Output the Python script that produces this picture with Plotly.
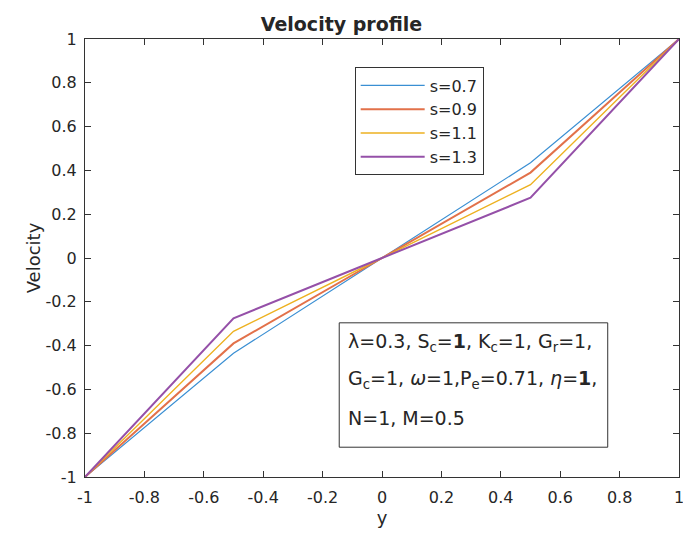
import plotly.graph_objects as go

# y positions along the channel
y_points = [-1.0, -0.5, 0.0, 0.5, 1.0]

# velocity for each s
vel_s07 = [-1.0, -0.435, 0.0, 0.435, 1.0]
vel_s09 = [-1.0, -0.39, 0.0, 0.39, 1.0]
vel_s11 = [-1.0, -0.335, 0.0, 0.335, 1.0]
vel_s13 = [-1.0, -0.275, 0.0, 0.275, 1.0]

series_names = ["s=0.7", "s=0.9", "s=1.1", "s=1.3"]
tick_vals = [-1, -0.8, -0.6, -0.4, -0.2, 0, 0.2, 0.4, 0.6, 0.8, 1]
tick_text = ["-1", "-0.8", "-0.6", "-0.4", "-0.2", "0", "0.2", "0.4", "0.6", "0.8", "1"]

colors = ["#3a8fd3", "#e2714a", "#edb120", "#9550a8"]
widths = [1.2, 2, 1.4, 2]

fig = go.Figure()
for name, vals, c, w in zip(series_names, [vel_s07, vel_s09, vel_s11, vel_s13], colors, widths):
    fig.add_trace(
        go.Scatter(x=y_points, y=vals, mode="lines", name=name,
                   line=dict(color=c, width=w))
    )

axis_style = dict(
    range=[-1, 1],
    tickvals=tick_vals,
    ticktext=tick_text,
    ticks="inside",
    ticklen=6,
    tickcolor="#333333",
    showline=True,
    linecolor="#333333",
    linewidth=1,
    mirror="ticks",
    showgrid=False,
    zeroline=False,
    automargin=False,
    ticklabeloverflow="allow",
    tickfont=dict(size=16, color="#262626"),
)

fig.update_xaxes(**axis_style, ticklabelstandoff=6,
                 title=dict(text="y", font=dict(size=18, color="#262626"), standoff=0))
fig.update_yaxes(**axis_style, ticklabelstandoff=4,
                 title=dict(text="Velocity", font=dict(size=18, color="#262626"), standoff=0))

# parameter box
fig.add_shape(type="rect", xref="paper", yref="paper", x0=0.428, x1=0.88, y0=0.068, y1=0.352,
              line=dict(color="#333333", width=1), fillcolor="white", layer="above")
param_lines = [
    "λ=0.3, S<sub>c</sub>=<b>1</b>, K<sub>c</sub>=1, G<sub>r</sub>=1,",
    "G<sub>c</sub>=1, <i>ω</i>=1,P<sub>e</sub>=0.71, <i>η</i>=<b>1</b>,",
    "N=1, M=0.5",
]
for line, ypos in zip(param_lines, [0.306, 0.222, 0.135]):
    fig.add_annotation(x=0.44, y=ypos, xref="paper", yref="paper", xanchor="left", yanchor="middle",
                       showarrow=False, text=line, font=dict(size=19, color="#262626"))

fig.update_layout(
    title=dict(text="<b>Velocity profile</b>", x=0.5, xanchor="center", y=0.967,
               font=dict(size=19, color="#262626")),
    width=683,
    height=541,
    plot_bgcolor="white",
    paper_bgcolor="white",
    font=dict(family="DejaVu Sans, sans-serif"),
    margin=dict(l=85, r=4, t=39, b=64),
    legend=dict(
        x=0.454, y=0.935, xanchor="left", yanchor="top",
        bordercolor="#333333", borderwidth=1, bgcolor="white",
        font=dict(size=16, color="#262626"),
        itemwidth=64,
        tracegroupgap=0,
    ),
)

fig.write_html("out.html", config={"displayModeBar": False},
               post_script="document.body.style.margin='0';")
